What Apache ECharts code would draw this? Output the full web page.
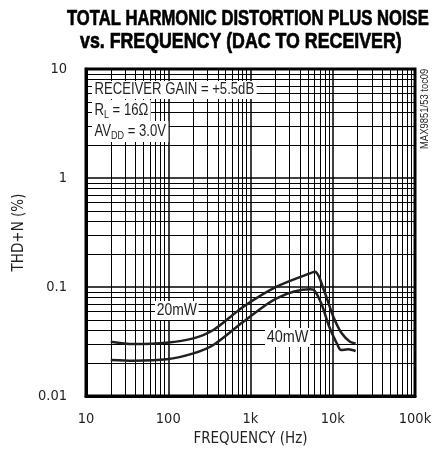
<!DOCTYPE html>
<html>
<head>
<meta charset="utf-8">
<script src="https://cdn.jsdelivr.net/npm/echarts@6/dist/echarts.min.js"></script>
<style>
html,body{margin:0;padding:0;background:#fff;}
#chart{width:438px;height:458px;}
</style>
</head>
<body>
<div id="chart"></div>
<script>
// ---- data ----
const freq20 = [20, 37.6, 95.7, 202, 353, 818, 2080, 5280, 6080, 8050, 10160, 12850, 16220, 19000];
const thd20  = [0.0315, 0.0300, 0.0308, 0.0338, 0.0403, 0.0659, 0.1007, 0.1335, 0.138, 0.0876, 0.0534, 0.0376, 0.0315, 0.0304];
const freq40 = [20, 37.6, 95.7, 202, 353, 818, 2080, 5280, 5800, 7240, 9060, 11450, 12600, 15400, 19000];
const thd40  = [0.0214, 0.0211, 0.0217, 0.0246, 0.0294, 0.0480, 0.0788, 0.0952, 0.0945, 0.0709, 0.0432, 0.0294, 0.0264, 0.0268, 0.0259];
const xTickValues = [10, 100, 1000, 10000, 100000];
const xTickLabels = ['10', '100', '1k', '10k', '100k'];
const yTickValues = [0.01, 0.1, 1, 10];
const yTickLabels = ['0.01', '0.1', '1', '10'];
const seriesNames = ['20mW', '40mW'];

const AXFONT = '"DejaVu Sans Condensed","Liberation Sans",sans-serif';
const NFONT = '"Liberation Sans",Arial,sans-serif';

function minorValues(lo, hi) {
  const out = [];
  for (let d = lo; d < hi; d *= 10) {
    for (let m = 2; m <= 9; m++) out.push(+(d * m).toPrecision(6));
  }
  return out;
}
const xMinor = minorValues(10, 100000);
const yMinor = minorValues(0.01, 10);

function labelFor(values, labels) {
  return function (v) {
    for (let i = 0; i < values.length; i++) {
      if (Math.abs(Math.log10(v) - Math.log10(values[i])) < 1e-6) return labels[i];
    }
    return '';
  };
}

const chart = echarts.init(document.getElementById('chart'), null, {renderer: 'canvas'});
const lineColor = '#231f20';
const txt = '#231f20';

const subRich = {
  n: {fontFamily: NFONT, fontSize: 16, fill: txt, lineHeight: 19, verticalAlign: 'middle'},
  s: {fontFamily: NFONT, fontSize: 11, fill: txt, lineHeight: 12, verticalAlign: 'bottom'}
};

const option = {
  animation: false,
  backgroundColor: '#fff',
  grid: {left: 86, right: 23, top: 69, bottom: 62, show: true, borderColor: '#000', borderWidth: 3, backgroundColor: 'transparent'},
  xAxis: {
    type: 'log', logBase: 10, min: 10, max: 100000,
    name: 'FREQUENCY (Hz)', nameLocation: 'middle', nameGap: 25,
    nameTextStyle: {fontFamily: AXFONT, fontSize: 15, color: txt},
    axisLine: {show: true, lineStyle: {color: '#000', width: 3}},
    axisTick: {show: false},
    minorTick: {show: false},
    axisLabel: {fontFamily: AXFONT, fontSize: 14.5, color: txt, margin: 16, formatter: labelFor(xTickValues, xTickLabels)},
    splitLine: {show: true, lineStyle: {color: '#000', width: 1.5}}
  },
  yAxis: {
    type: 'log', logBase: 10, min: 0.01, max: 10,
    name: 'THD+N (%)', nameLocation: 'middle', nameGap: 54,
    nameTextStyle: {fontFamily: AXFONT, fontSize: 15, color: txt},
    axisLine: {show: true, lineStyle: {color: '#000', width: 3}},
    axisTick: {show: false},
    axisLabel: {fontFamily: AXFONT, fontSize: 14.5, color: txt, margin: 19, formatter: labelFor(yTickValues, yTickLabels)},
    splitLine: {show: true, lineStyle: {color: '#000', width: 1.5}}
  },
  series: [
    {
      name: seriesNames[0], type: 'line', smooth: 0.3, showSymbol: false,
      data: freq20.map((f, i) => [f, thd20[i]]),
      lineStyle: {color: lineColor, width: 2.5}, z: 5,
      markLine: {
        silent: true, symbol: ['none', 'none'], label: {show: false},
        lineStyle: {color: '#000', width: 1, type: 'solid'},
        z: 1,
        data: xMinor.map(v => ({xAxis: v})).concat(yMinor.map(v => ({yAxis: v})))
      }
    },
    {
      name: seriesNames[1], type: 'line', smooth: 0.3, showSymbol: false,
      data: freq40.map((f, i) => [f, thd40[i]]),
      lineStyle: {color: lineColor, width: 2.5}, z: 5
    }
  ],
  graphic: [
    {type: 'text', x: 67, y: 8, scaleX: 0.755, z: 100, style: {text: 'TOTAL HARMONIC DISTORTION PLUS NOISE', fontFamily: NFONT, fontWeight: 'bold', fontSize: 22, fill: '#000', stroke: '#000', lineWidth: 0.7}},
    {type: 'text', x: 80, y: 31, scaleX: 0.808, z: 100, style: {text: 'vs. FREQUENCY (DAC TO RECEIVER)', fontFamily: NFONT, fontWeight: 'bold', fontSize: 22, fill: '#000', stroke: '#000', lineWidth: 0.7}},
    {type: 'text', x: 92, y: 81, scaleX: 0.82, z: 100, style: {text: 'RECEIVER GAIN = +5.5dB', fontFamily: NFONT, fontSize: 16, fill: txt, backgroundColor: '#fff', padding: [1, 3, 1, 3]}},
    {type: 'text', x: 92, y: 100, scaleX: 0.82, z: 100, style: {text: '{n|R}{s|L}{n| = 16Ω}', backgroundColor: '#fff', padding: [1, 3, 1, 3], rich: subRich}},
    {type: 'text', x: 92, y: 121, scaleX: 0.82, z: 100, style: {text: '{n|AV}{s|DD}{n| = 3.0V}', backgroundColor: '#fff', padding: [1, 3, 1, 3], rich: subRich}},
    {type: 'text', x: 155, y: 301, scaleX: 0.82, z: 100, style: {text: seriesNames[0], fontFamily: NFONT, fontSize: 17, fill: txt, backgroundColor: '#fff', padding: [1, 2, 1, 2]}},
    {type: 'text', x: 265, y: 328, scaleX: 0.85, z: 100, style: {text: seriesNames[1], fontFamily: NFONT, fontSize: 17, fill: txt, backgroundColor: '#fff', padding: [1, 2, 1, 2]}},
    {type: 'text', x: 420, y: 149, rotation: Math.PI / 2, scaleX: 0.9, z: 100, style: {text: 'MAX9851/53 toc09', fontFamily: NFONT, fontSize: 10.5, fill: txt}}
  ]
};
chart.setOption(option);
</script>
</body>
</html>
